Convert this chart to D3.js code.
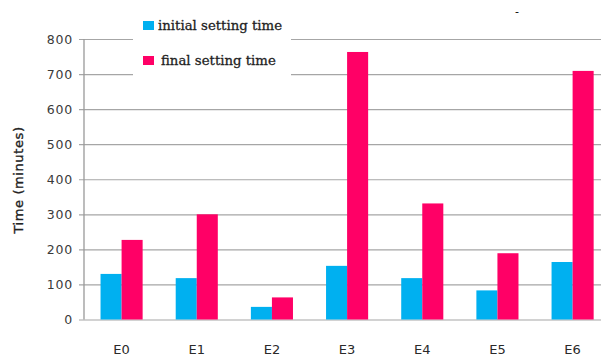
<!DOCTYPE html>
<html>
<head>
<meta charset="utf-8">
<script src="https://cdn.jsdelivr.net/npm/d3@7"></script>
<style>
  html, body { margin: 0; padding: 0; background: #fff; }
  svg { display: block; }
</style>
</head>
<body>
<svg id="chart" width="601" height="358"></svg>
<script>
// Setting times per mix
const categories = ["E0", "E1", "E2", "E3", "E4", "E5", "E6"];
const initialSetting = [130, 118, 36, 153, 118, 83, 164];
const finalSetting = [227, 300, 63, 763, 331, 189, 709];
const seriesNames = ["initial setting time", "final setting time"];
const seriesColors = ["#00B0F0", "#FF0066"];
const yTicks = [0, 100, 200, 300, 400, 500, 600, 700, 800];

const svg = d3.select("#chart");
const left = 84, zeroY = 319.5, topY = 39;

const x0 = d3.scaleBand()
  .domain(categories)
  .range([left, left + 7 * 75.17])
  .paddingInner(0.44)
  .paddingOuter(0.22);

const x1 = d3.scaleBand()
  .domain(seriesNames)
  .range([0, x0.bandwidth()]);

const y = d3.scaleLinear().domain([0, 800]).range([zeroY, topY]);

// gridlines + y ticks
const yAxis = d3.axisLeft(y)
  .tickValues(yTicks)
  .tickSize(-(601 - left))
  .tickSizeOuter(0)
  .tickPadding(11);

const gy = svg.append("g")
  .attr("transform", `translate(${left},0)`)
  .call(yAxis);
gy.select(".domain").remove();
gy.selectAll(".tick line")
  .attr("x1", -5)
  .attr("stroke", "#a6a6a6")
  .attr("stroke-width", 1.2);
gy.selectAll(".tick text")
  .attr("font-family", "DejaVu Sans, Verdana, sans-serif")
  .attr("font-size", 12.5)
  .attr("letter-spacing", 0.8)
  .attr("fill", "#3a3a3a");

// vertical axis line
svg.append("line")
  .attr("x1", left).attr("x2", left)
  .attr("y1", y(800)).attr("y2", y(0))
  .attr("stroke", "#999").attr("stroke-width", 1.3);

// bars
const rows = categories.map((c, i) => ({ cat: c, vals: [initialSetting[i], finalSetting[i]] }));
const groups = svg.append("g").selectAll("g")
  .data(rows)
  .join("g")
  .attr("transform", d => `translate(${x0(d.cat)},0)`);

groups.selectAll("rect")
  .data(d => d.vals.map((v, k) => ({ key: seriesNames[k], v, k })))
  .join("rect")
  .attr("x", d => x1(d.key))
  .attr("width", x1.bandwidth())
  .attr("y", d => y(d.v))
  .attr("height", d => y(0) - y(d.v))
  .attr("fill", d => seriesColors[d.k]);

// x labels
const xAxis = d3.axisBottom(x0).tickSize(0).tickPadding(25);
const gx = svg.append("g")
  .attr("transform", `translate(0,${zeroY})`)
  .call(xAxis);
gx.select(".domain").remove();
gx.selectAll(".tick text")
  .attr("font-family", "DejaVu Sans, Verdana, sans-serif")
  .attr("font-size", 13)
  .attr("fill", "#2a2a2a");

// y title
svg.append("text")
  .attr("transform", `translate(23,180) rotate(-90)`)
  .attr("text-anchor", "middle")
  .attr("font-family", "DejaVu Sans, Verdana, sans-serif")
  .attr("font-size", 13)
  .attr("letter-spacing", 0.6)
  .attr("fill", "#222")
  .attr("stroke", "#222")
  .attr("stroke-width", 0.35)
  .text("Time (minutes)");

// legend
const legend = svg.append("g");
legend.append("rect")
  .attr("x", 133).attr("y", 5).attr("width", 158).attr("height", 75)
  .attr("fill", "#fff");
const legendRows = [{ sy: 21, ty: 30, tx: 158 }, { sy: 56, ty: 65, tx: 161 }];
seriesNames.forEach((name, k) => {
  legend.append("rect")
    .attr("x", 143).attr("y", legendRows[k].sy)
    .attr("width", 11).attr("height", 9)
    .attr("fill", seriesColors[k]);
  legend.append("text")
    .attr("x", legendRows[k].tx).attr("y", legendRows[k].ty)
    .attr("font-family", "DejaVu Serif, Liberation Serif, serif")
    .attr("font-size", 13.3)
    .attr("font-style", "normal")
    .attr("fill", "#222")
    .attr("stroke", "#222")
    .attr("stroke-width", 0.3)
    .text(name);
});

// stray dash near the top
svg.append("text")
  .attr("x", 517).attr("y", 15)
  .attr("text-anchor", "middle")
  .attr("font-family", "DejaVu Sans, sans-serif")
  .attr("font-size", 11)
  .attr("fill", "#000")
  .text("-");
</script>
</body>
</html>
